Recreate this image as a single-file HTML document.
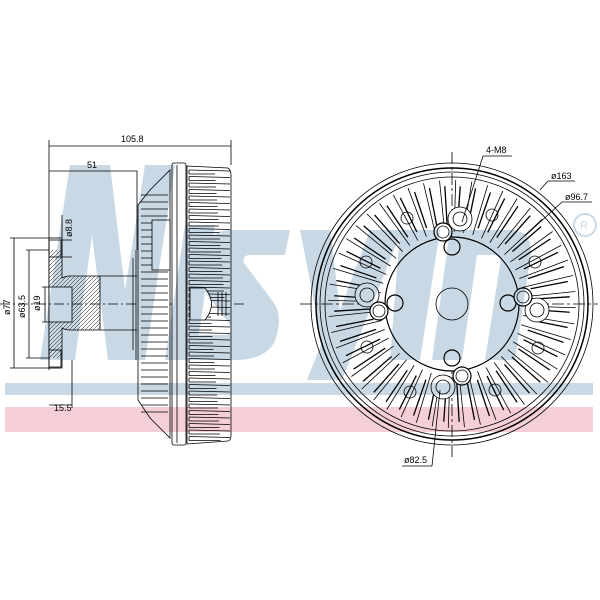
<!DOCTYPE html>
<html><head><meta charset="utf-8"><style>
html,body{margin:0;padding:0;background:#fff;width:600px;height:600px;overflow:hidden}
svg{display:block}
text{font-family:"Liberation Sans",sans-serif;font-size:9px;fill:#000}
#wm{mix-blend-mode:multiply}
</style></head><body>
<svg id="s" width="600" height="600" viewBox="0 0 600 600" xmlns="http://www.w3.org/2000/svg">
<g id="L" stroke="#000" stroke-width="0.8" fill="none"></g>
<g id="R" stroke="#000" stroke-width="0.8" fill="none"></g>
<!-- dimension text -->
<text x="121" y="142">105.8</text>
<text x="87" y="168">51</text>
<text x="54" y="411">15.5</text>
<text transform="translate(72,237) rotate(-90)">ø8.8</text>
<text transform="translate(10,315) rotate(-90)">ø77</text>
<text transform="translate(25,318) rotate(-90)">ø63.5</text>
<text transform="translate(40,311) rotate(-90)">ø19</text>
<text x="486" y="153">4-M8</text>
<text x="551" y="179">ø163</text>
<text x="565" y="200">ø96.7</text>
<text x="404" y="463">ø82.5</text>
<!-- watermark -->
<g id="wm">
<g fill="#c9d8e5">
<polygon points="40,360 70,165 110,165 125,290 145,165 175,165 145,360 108,360 92,235 75,360"/>
<polygon points="185,225 215,225 195,360 165,360"/>
<path d="M230,230 h60 l-5,25 h-35 q-8,0 -6,8 l30,40 q10,15 0,40 q-10,17 -40,17 h-55 l5,-25 h40 q10,0 6,-10 l-30,-40 q-10,-20 5,-40 q10,-15 25,-15z"/>
<path d="M300,230 h30 l10,80 l30,-80 h32 l-60,150 h-35 l15,-38z"/>
<path d="M400,230 h40 l-20,130 h-30z"/>
<path d="M450,230 h60 q25,0 20,30 l-15,100 h-30 l15,-95 q2,-10 -8,-10 h-15 l-15,105 h-30z"/>
</g>
<rect x="5" y="383" width="588" height="12" fill="#c9d8e5"/>
<rect x="5" y="407" width="588" height="25" fill="#f4cfd5"/>
<circle cx="585" cy="225" r="11" fill="none" stroke="#c9d8e5" stroke-width="2"/>
<text x="580" y="229" style="fill:#c9d8e5;font-size:11px">R</text>
</g>
</svg>
<script>
var NS="http://www.w3.org/2000/svg";
function el(g,t,a){var e=document.createElementNS(NS,t);for(var k in a)e.setAttribute(k,a[k]);document.getElementById(g).appendChild(e);return e;}
function ln(g,x1,y1,x2,y2,extra){var a={x1:x1,y1:y1,x2:x2,y2:y2};for(var k in extra)a[k]=extra[k];return el(g,'line',a);}
ln('L',49,140,49,370);ln('L',49,146,231,146);ln('L',231,140,231,165);
ln('L',49,171,137,171);ln('L',137,171,137,250);
ln('L',10,238,60,238);ln('L',10,368,60,368);ln('L',14,238,14,368);
ln('L',26,250,60,250);ln('L',26,358,60,358);ln('L',29,250,29,358);
ln('L',42,287,60,287);ln('L',42,322,60,322);ln('L',45,287,45,322);
ln('L',62,215,62,257);ln('L',55,240,72,240);ln('L',55,257,72,257);
ln('L',49,405,72,405);ln('L',72,360,72,408);
el('L','path',{d:"M49,238 H62 V278 Q66,276 70,276 H100 V330 H70 Q66,330 62,328 V368 H49 Z",fill:"#fff"});
var cp=el('L','clipPath',{id:'hc'});
var cpp=document.createElementNS(NS,'path');cpp.setAttribute('d',"M49,250 H62 V278 Q66,276 70,276 H100 V330 H70 Q66,330 62,328 V358 H49 Z M49,287 H72 V322 H49Z");cpp.setAttribute('clip-rule','evenodd');cp.appendChild(cpp);
var hg=el('L','g',{'clip-path':'url(#hc)','stroke-width':'0.5'});
for(var i=-120;i<120;i+=4){var l=document.createElementNS(NS,'line');l.setAttribute('x1',49+i);l.setAttribute('y1',370);l.setAttribute('x2',49+i+120);l.setAttribute('y2',250);hg.appendChild(l);}
el('L','rect',{x:49,y:287,width:23,height:35,fill:'#fff'});
el('L','rect',{x:49,y:240,width:12,height:17});el('L','rect',{x:49,y:350,width:12,height:17});
ln('L',100,276,137,276);ln('L',100,330,137,330);
ln('L',0,304,246,304,{'stroke-dasharray':'10,3,2,3'});
el('L','path',{d:"M138,205 L150,190 L170,170 V438 L150,418 L138,400 Z",fill:'#fff'});
ln('L',136,250,136,360);ln('L',133,258,133,350);
for(var y=195;y<415;y+=7){ln('L',141,y,168,y);}
el('L','rect',{x:152,y:220,width:18,height:50,fill:'#fff'});
el('L','rect',{x:172,y:163,width:14,height:282,rx:2,fill:'#fff'});ln('L',177,165,177,443);
el('L','path',{d:"M187,166 L228,168 Q231,170 231,175 V435 Q231,440 228,441 L187,444 Z",fill:'#fff'});
for(var y=170;y<441;y+=6.5){ln('L',189,y,230,y+1);ln('L',189,y,189,y+4);ln('L',189,y+4,210+((y*7)%15),y+4);}
el('L','path',{d:"M190,288 H205 Q218,304 205,320 H190 Z",fill:'#fff'});
ln('L',218,292,218,316);ln('L',222,292,222,316);ln('L',226,292,226,316);
var cx=452,cy=304;
ln('R',300,cy,598,cy,{'stroke-dasharray':'12,3,3,3'});ln('R',cx,152,cx,457,{'stroke-dasharray':'12,3,3,3'});
[141,136,132,127].forEach(function(r,i){el('R','circle',{cx:cx,cy:cy,r:r,'stroke-width':i==1?1.5:0.8});});
for(var k=0;k<48;k++){var a=k*Math.PI*2/48+0.03;var c=Math.cos(a),s=Math.sin(a);
 var a2=a+0.04;ln('R',cx+c*72,cy+s*72,cx+c*124,cy+s*124);ln('R',cx+Math.cos(a2)*80,cy+Math.sin(a2)*80,cx+Math.cos(a2)*118,cy+Math.sin(a2)*118,{'stroke-width':1.3});}
el('R','circle',{cx:cx,cy:cy,r:67,fill:'#fff','stroke-width':1.2});
el('R','circle',{cx:cx,cy:cy,r:16});
[[452,247],[452,358],[395,303],[508,303]].forEach(function(p){el('R','circle',{cx:p[0],cy:p[1],r:8,'stroke-width':1.2});});
[[460,219],[367,295],[537,310],[443,387]].forEach(function(p){el('R','circle',{cx:p[0],cy:p[1],r:12,fill:'#fff'});el('R','circle',{cx:p[0],cy:p[1],r:7});});
[[443,232],[379,311],[523,297],[462,376]].forEach(function(p){el('R','circle',{cx:p[0],cy:p[1],r:9,fill:'#fff','stroke-width':1.2});el('R','circle',{cx:p[0],cy:p[1],r:6});});
[[407,218],[492,215],[535,262],[538,348],[495,390],[410,392],[367,347],[366,262]].forEach(function(p){el('R','circle',{cx:p[0],cy:p[1],r:6});});
ln('R',483,156,512,156);ln('R',483,156,462,222);
ln('R',548,181,575,181);ln('R',548,181,540,190);
ln('R',562,202,592,202);ln('R',562,202,525,236);
ln('R',402,466,432,466);ln('R',432,466,440,390);
</script>
</body></html>
